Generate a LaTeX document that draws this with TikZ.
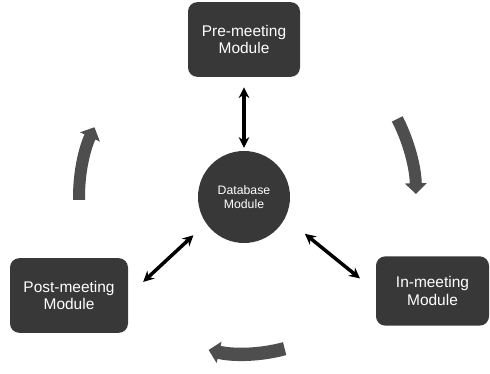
\documentclass[tikz,border=0pt]{standalone}
\usepackage{fontspec}
\setmainfont{Liberation Sans}
\usetikzlibrary{arrows.meta}

\definecolor{modfill}{RGB}{56,56,56}
\definecolor{flowgray}{RGB}{78,78,78}

\tikzset{every picture/.style={line width=0.75pt}}
\tikzset{
  modbox/.style={rectangle, rounded corners=7pt, fill=modfill, text=white, align=center,
    minimum width=84pt, minimum height=56pt, inner sep=0pt, font=\fontsize{11.6}{13}\selectfont},
  dbcirc/.style={circle, fill=modfill, text=white, align=center, minimum size=69pt,
    inner sep=0pt, font=\fontsize{9.2}{10.5}\selectfont},
  link/.style={{Stealth[length=8pt,width=8pt]}-{Stealth[length=8pt,width=8pt]}, line width=2.6pt},
  flow/.style={-{Triangle[length=8pt,width=16pt]}, line width=9pt, draw=flowgray}
}

\begin{document}
\begin{tikzpicture}[x=0.75pt,y=0.75pt,yscale=-1,xscale=1]
\useasboundingbox (0,0) rectangle (490,374);

% Modules
\node[modbox] (pre) at (244,39.5) {Pre-meeting\\Module};
\node[dbcirc] (db) at (244,197) {Database\\Module};
\node[modbox, minimum width=88.5pt] (post) at (69,295.5) {Post-meeting\\Module};
\node[modbox, minimum width=84.75pt, minimum height=52pt] (in) at (432.5,291) {In-meeting\\Module};

% Links to database
\draw[link, shorten <=7.5pt, shorten >=2pt] (pre) -- (db);
\draw[link, shorten <=12.75pt, shorten >=15pt] (db.215) -- (post.east);
\draw[link, shorten <=18.75pt, shorten >=15pt] (db.333) -- (in.west);

% Flow arrows
\draw[flow] ([shift={(179:165)}]db.center) arc[start angle=179, end angle=205, radius=165];
\draw[flow] ([shift={(-27:172)}]db.center) arc[start angle=-27, end angle=-1, radius=172];
\draw[flow, line width=10pt] ([shift={(75:157)}]db.center) arc[start angle=75, end angle=103, radius=157];

\end{tikzpicture}
\end{document}
